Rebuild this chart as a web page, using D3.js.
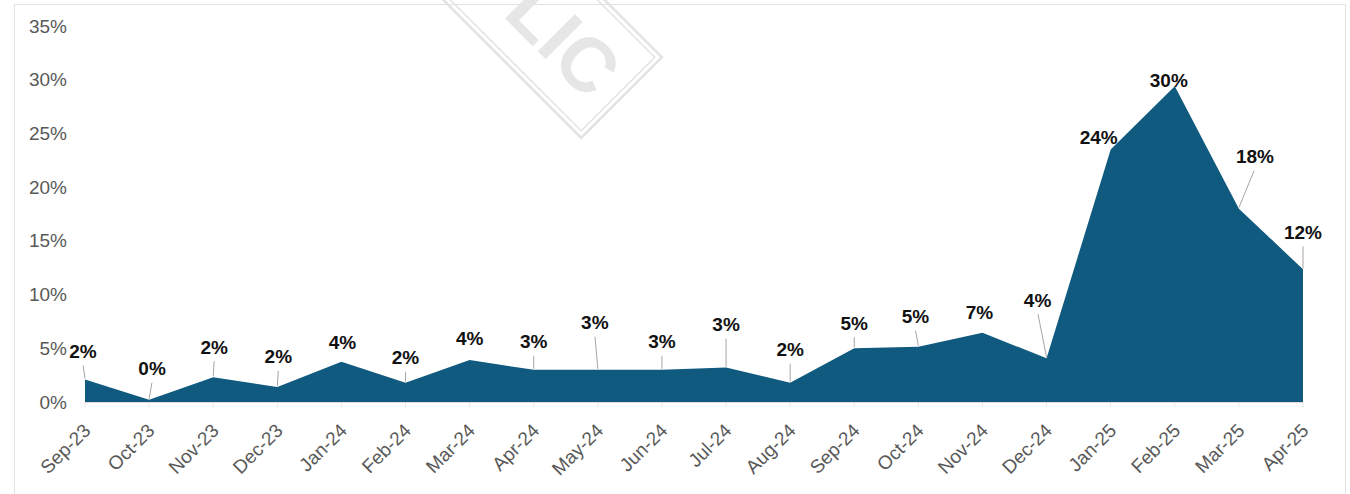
<!DOCTYPE html>
<html>
<head>
<meta charset="utf-8">
<script src="https://cdn.jsdelivr.net/npm/d3@7"></script>
<style>
  html, body { margin: 0; padding: 0; background: #ffffff; }
  svg { display: block; }
</style>
</head>
<body>
<svg id="chart" width="1350" height="494"></svg>
<script>
// ---- data ----
const categories = ["Sep-23","Oct-23","Nov-23","Dec-23","Jan-24","Feb-24","Mar-24","Apr-24","May-24","Jun-24","Jul-24","Aug-24","Sep-24","Oct-24","Nov-24","Dec-24","Jan-25","Feb-25","Mar-25","Apr-25"];
const values = [2.1, 0.2, 2.3, 1.4, 3.75, 1.8, 3.9, 3.0, 3.0, 3.0, 3.2, 1.8, 5.0, 5.15, 6.45, 4.07, 23.5, 29.4, 18.0, 12.35];
const valueLabels = ["2%","0%","2%","2%","4%","2%","4%","3%","3%","3%","3%","2%","5%","5%","7%","4%","24%","30%","18%","12%"];
const yTicks = [0, 5, 10, 15, 20, 25, 30, 35];

// ---- layout (label offsets from point, in px) ----
const labelOffsets = [[-2,-28],[3,-31],[1,-30],[1,-30],[1,-19],[0,-25],[0,-22],[0,-28],[-3,-47],[0,-28],[0,-43],[0,-33],[0,-25],[-3,-30],[-3,-20],[-9,-58],[-12,-12],[-6,-6],[16,-52],[0,-37]];

const svg = d3.select("#chart");

const x = d3.scalePoint().domain(categories).range([85, 1303]);
const y = d3.scaleLinear().domain([0, 35]).range([402, 26]);

// frame
svg.append("rect")
  .attr("x", 14.5).attr("y", 4.5).attr("width", 1331).attr("height", 500)
  .attr("fill", "none").attr("stroke", "#c4c4c4").attr("stroke-width", 1)
  .attr("stroke-dasharray", "1,1");

// watermark
const wm = svg.append("g").attr("transform", "translate(548,41) rotate(45)");
wm.append("rect").attr("x", -190).attr("y", -69).attr("width", 282).attr("height", 114)
  .attr("fill", "none").attr("stroke", "#e3e3e3").attr("stroke-width", 2.5);
wm.append("rect").attr("x", -185).attr("y", -64).attr("width", 272).attr("height", 104)
  .attr("fill", "none").attr("stroke", "#e3e3e3").attr("stroke-width", 1.5);
wm.append("text").attr("x", 10).attr("y", -12)
  .attr("text-anchor", "middle").attr("dominant-baseline", "central")
  .attr("font-family", "Liberation Sans, Arial, sans-serif").attr("font-weight", "bold")
  .attr("font-size", 76).attr("fill", "#e6e6e6").text("LIC");

// y axis labels
svg.append("g").selectAll("text").data(yTicks).join("text")
  .attr("x", 67).attr("y", d => y(d))
  .attr("text-anchor", "end").attr("dominant-baseline", "central")
  .attr("font-family", "Liberation Sans, Arial, sans-serif").attr("font-size", 19)
  .attr("fill", "#595959").text(d => d + "%");

// area
const area = d3.area()
  .x((d, i) => x(categories[i]))
  .y0(y(0))
  .y1(d => y(d));
svg.append("path").datum(values)
  .attr("d", area).attr("fill", "#0f5a7e");

// baseline and ticks
svg.append("line").attr("x1", x(categories[0])).attr("x2", x(categories[categories.length-1]))
  .attr("y1", y(0) + 0.5).attr("y2", y(0) + 0.5).attr("stroke", "#e8d8dc").attr("stroke-width", 1);
svg.append("g").selectAll("line").data(categories).join("line")
  .attr("x1", d => x(d)).attr("x2", d => x(d))
  .attr("y1", y(0)).attr("y2", y(0) + 6)
  .attr("stroke", "#cfcfcf").attr("stroke-width", 1).attr("stroke-dasharray", "1,1");

// x labels
svg.append("g").selectAll("text").data(categories).join("text")
  .attr("transform", d => `translate(${x(d) + 2},${y(0) + 25}) rotate(-45)`)
  .attr("text-anchor", "end").attr("dy", "0.35em")
  .attr("font-family", "Liberation Sans, Arial, sans-serif").attr("font-size", 19)
  .attr("fill", "#595959").text(d => d);

// leader lines
const pts = values.map((v, i) => ({
  px: x(categories[i]), py: y(v),
  lx: x(categories[i]) + labelOffsets[i][0], ly: y(v) + labelOffsets[i][1],
  label: valueLabels[i]
}));
svg.append("g").selectAll("line").data(pts.filter(p => (p.py - p.ly) > 24)).join("line")
  .attr("x1", p => p.lx + (p.px - p.lx) * 0.05).attr("y1", p => p.ly + 14)
  .attr("x2", p => p.px).attr("y2", p => p.py - 1)
  .attr("stroke", "#a6a6a6").attr("stroke-width", 1);

// data labels
svg.append("g").selectAll("text").data(pts).join("text")
  .attr("x", p => p.lx).attr("y", p => p.ly)
  .attr("text-anchor", "middle").attr("dominant-baseline", "central")
  .attr("font-family", "Liberation Sans, Arial, sans-serif").attr("font-weight", "bold")
  .attr("font-size", 19).attr("fill", "#111111").text(p => p.label);
</script>
</body>
</html>
